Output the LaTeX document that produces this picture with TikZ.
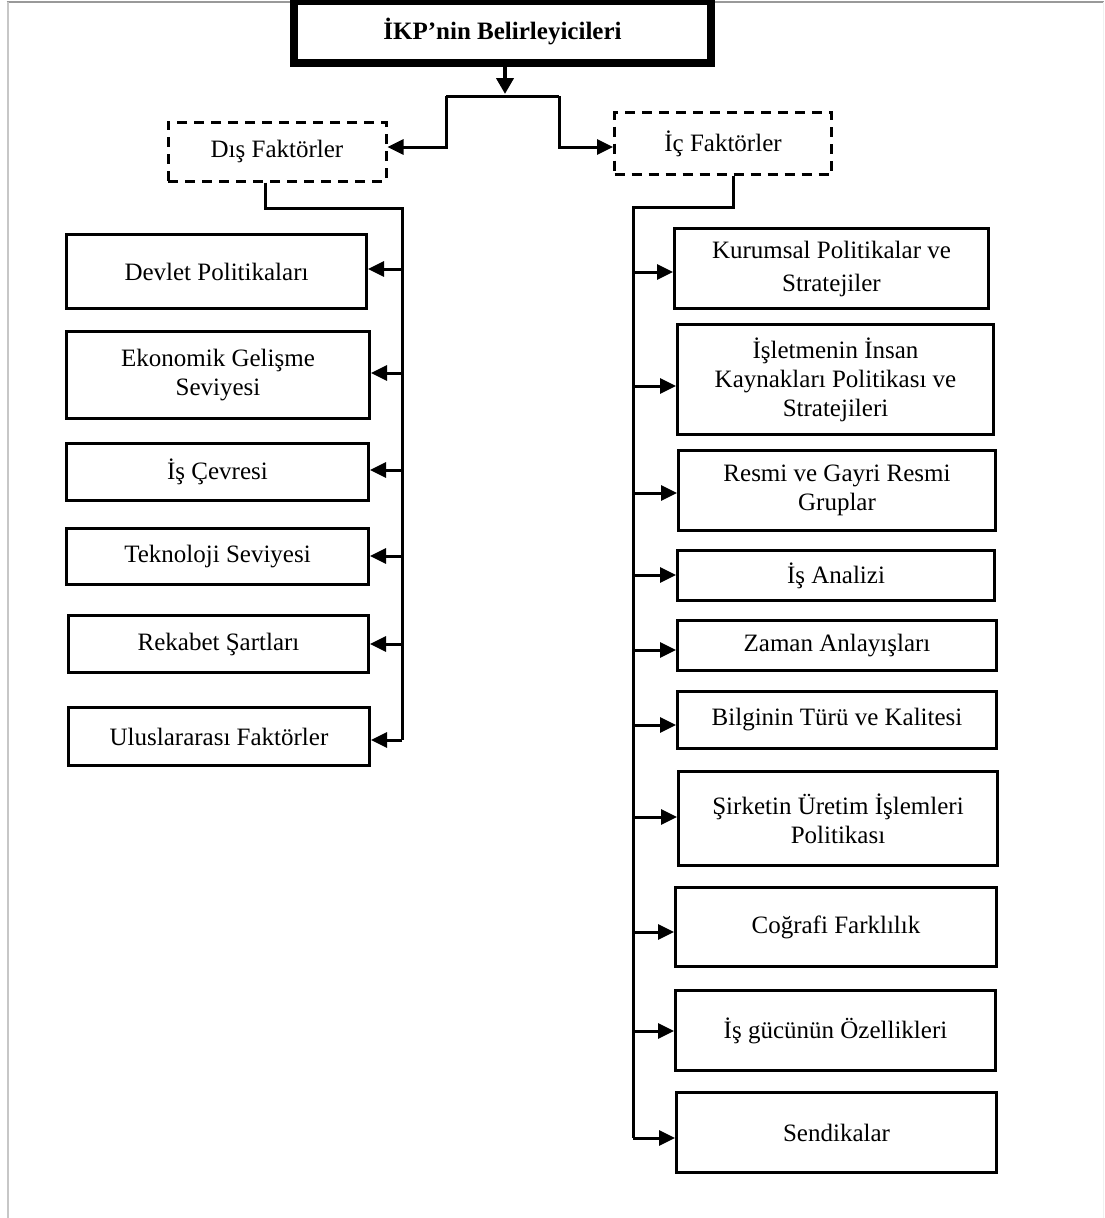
\documentclass[tikz,border=0pt]{standalone}
\usepackage{fontspec}
\setmainfont{Liberation Serif}
\usetikzlibrary{arrows.meta}

\tikzset{
  box/.style={draw, line width=3pt, align=center, inner sep=2pt,
    font=\fontsize{25}{29}\selectfont},
  dashbox/.style={draw, line width=3pt, dash pattern=on 10pt off 7pt,
    align=center, font=\fontsize{25}{29}\selectfont},
  titlebox/.style={draw, line width=8pt, align=center,
    font=\fontsize{25}{29}\selectfont\bfseries},
  conn/.style={line width=3pt},
  arr/.style={conn, -{Triangle[length=16pt,width=15pt]}},
  bigarr/.style={line width=4.5pt, -{Triangle[length=16pt,width=17pt]}},
}

\begin{document}
\begin{tikzpicture}[x=1pt, y=-1pt]
\useasboundingbox (0,0) rectangle (1104,1218);

% thin page frame
\draw[line width=2pt, black!40] (6.5,2) -- (1104,2);
\draw[line width=2pt, black!22] (7.5,2) -- (7.5,1218);
\draw[line width=1pt, black!6] (1103.5,2) -- (1103.5,1218);

% title
\node[titlebox, minimum width=417pt, minimum height=61.5pt] (title) at (502.5,31.75)
  {İKP’nin Belirleyicileri};

% the two groups
\node[dashbox, minimum width=218pt, minimum height=59pt] (dis) at (277,151.5) {Dış Faktörler};
\node[dashbox, minimum width=217pt, minimum height=62pt] (ic) at (723,143.5) {İç Faktörler};

% external factors
\node[box, minimum width=300pt, minimum height=74pt] (l1) at (216.5,271.5) {Devlet Politikaları};
\node[box, minimum width=303pt, minimum height=87pt] (l2) at (218,375) {Ekonomik Gelişme\\Seviyesi};
\node[box, minimum width=302pt, minimum height=57pt] (l3) at (217.5,472) {İş Çevresi};
\node[box, minimum width=302pt, minimum height=56pt] (l4) at (217.5,556.5) {Teknoloji Seviyesi};
\node[box, minimum width=300pt, minimum height=57pt] (l5) at (218.5,644) {Rekabet Şartları};
\node[box, minimum width=301pt, minimum height=58pt] (l6) at (219,736.5) {Uluslararası Faktörler};

% internal factors
\node[box, minimum width=314pt, minimum height=80pt, font=\fontsize{25}{33}\selectfont] (r1) at (831.5,268.5) {Kurumsal Politikalar ve\\Stratejiler};
\node[box, minimum width=316pt, minimum height=110pt] (r2) at (835.5,379.5) {İşletmenin İnsan\\Kaynakları Politikası ve\\Stratejileri};
\node[box, minimum width=317pt, minimum height=80pt] (r3) at (837,490.5) {Resmi ve Gayri Resmi\\Gruplar};
\node[box, minimum width=317pt, minimum height=50pt] (r4) at (836,575.5) {İş Analizi};
\node[box, minimum width=319pt, minimum height=50pt] (r5) at (837,645.5) {Zaman Anlayışları};
\node[box, minimum width=319pt, minimum height=57pt] (r6) at (837,720) {Bilginin Türü ve Kalitesi};
\node[box, minimum width=319pt, minimum height=94pt] (r7) at (838,818.5) {Şirketin Üretim İşlemleri\\Politikası};
\node[box, minimum width=321pt, minimum height=79pt] (r8) at (836,927) {Coğrafi Farklılık};
\node[box, minimum width=320pt, minimum height=80pt] (r9) at (835.5,1030.5) {İş gücünün Özellikleri};
\node[box, minimum width=320pt, minimum height=80pt] (r10) at (836.5,1132.5) {Sendikalar};

% split under the title
\coordinate (split) at (505,96);
\coordinate (lk) at (446,96);
\coordinate (rk) at (559,96);
\draw[bigarr] (split |- title.south) -- ([yshift=2pt]split);
\draw[conn] (lk) -- (rk);
\draw[arr] (lk) |- ([yshift=4.5pt]dis.east);
\draw[arr] (rk) |- ([yshift=-3.5pt]ic.west);

% left bus
\coordinate (lbus) at (402,208);
\foreach \n/\s in {l1/2.5, l2/2, l3/2, l4/0.5, l5/0, l6/-3.5} {
  \path ([yshift=\s pt]\n.east) coordinate (tip-\n);
  \draw[arr] (lbus |- tip-\n) -- (tip-\n);
}
\draw[conn] ([xshift=-12pt]dis.south) |- (lbus) -- (lbus |- tip-l6);

% right bus
\coordinate (rbus) at (633,207);
\foreach \n/\s in {r1/-3.5, r2/-6.5, r3/-2.5, r4/0.5, r5/-4.5, r6/-5, r7/1.5, r8/-5, r9/-0.5, r10/-5.5} {
  \path ([yshift=\s pt]\n.west) coordinate (tip-\n);
  \draw[arr] (rbus |- tip-\n) -- (tip-\n);
}
\draw[conn] ([xshift=10pt]ic.south) |- (rbus) -- (rbus |- tip-r10);
\end{tikzpicture}
\end{document}
